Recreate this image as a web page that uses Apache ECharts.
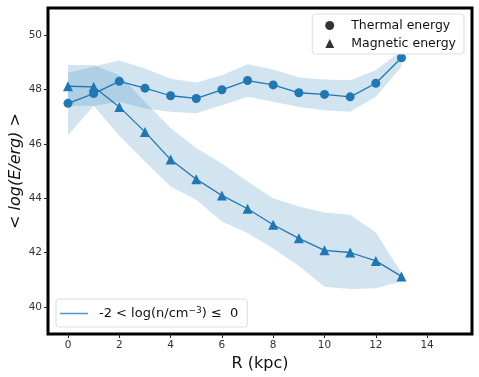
<!DOCTYPE html>
<html>
<head>
<meta charset="utf-8">
<script src="https://cdn.jsdelivr.net/npm/echarts@6/dist/echarts.min.js"></script>
<style>
  html, body { margin: 0; padding: 0; background: #fff; }
  #chart { width: 479px; height: 377px; }
</style>
</head>
<body>
<div id="chart"></div>
<script>
// Rayons (kpc)
const radius = [0, 1, 2, 3, 4, 5, 6, 7, 8, 9, 10, 11, 12, 13];

// Energie thermique : moyenne et enveloppe
const thermal = [47.49, 47.85, 48.30, 48.05, 47.77, 47.67, 47.99, 48.33, 48.17, 47.88, 47.82, 47.73, 48.23, 49.17];
const thermalUp = [48.62, 48.85, 49.07, 48.77, 48.40, 48.26, 48.52, 48.93, 48.74, 48.44, 48.37, 48.34, 48.71, 49.44];
const thermalLow = [47.40, 47.40, 47.55, 47.30, 47.18, 47.13, 47.42, 47.73, 47.55, 47.36, 47.24, 47.18, 47.73, 48.83];

// Energie magnetique : moyenne et enveloppe
const magnetic = [48.12, 48.10, 47.36, 46.44, 45.42, 44.70, 44.10, 43.61, 43.02, 42.52, 42.08, 42.00, 41.69, 41.12];
const magneticUp = [48.90, 48.90, 48.52, 47.55, 46.58, 45.85, 45.28, 44.61, 44.00, 43.69, 43.47, 43.39, 42.74, 41.25];
const magneticLow = [46.32, 47.40, 46.30, 45.35, 44.43, 43.94, 43.14, 42.72, 42.15, 41.50, 40.74, 40.66, 40.68, 40.94];

const xTicks = [0, 2, 4, 6, 8, 10, 12, 14];
const yTicks = [40, 42, 44, 46, 48, 50];

const BLUE = '#1f77b4';
const FONT = 'DejaVu Sans';
const densName = 'dens';

function pairs(vals) {
    return radius.map((r, i) => [r, vals[i]]);
}

// Bande remplie entre deux courbes (fill_between), via les echelles du graphe
function band(up, low) {
    return {
        type: 'custom',
        silent: true,
        z: 1,
        data: [[0, up[0]]],
        renderItem: function (params, api) {
            const pts = [];
            for (let i = 0; i < radius.length; i++) pts.push(api.coord([radius[i], up[i]]));
            for (let i = radius.length - 1; i >= 0; i--) pts.push(api.coord([radius[i], low[i]]));
            return {
                type: 'polygon',
                shape: { points: pts },
                style: { fill: BLUE, opacity: 0.2 }
            };
        }
    };
}

var chart = echarts.init(document.getElementById('chart'));

var option = {
    animation: false,
    textStyle: { fontFamily: FONT },
    grid: {
        left: 48, right: 7, top: 8, bottom: 43,
        outerBoundsMode: 'none',
        containLabel: false,
        show: true, borderColor: '#000', borderWidth: 3, backgroundColor: 'transparent'
    },
    xAxis: {
        type: 'value',
        min: -0.78, max: 15.75,
        name: 'R (kpc)',
        nameLocation: 'middle',
        nameGap: 22,
        nameTextStyle: { fontFamily: FONT, fontSize: 16, color: '#111' },
        axisLine: { show: false, onZero: false },
        axisTick: { show: true, length: 4, lineStyle: { color: '#222' }, customValues: xTicks },
        axisLabel: { fontFamily: FONT, fontSize: 10.5, color: '#333', margin: 6, customValues: xTicks },
        splitLine: { show: false }
    },
    yAxis: {
        type: 'value',
        min: 39, max: 51,
        name: '< {it|log(E/erg)} >',
        nameLocation: 'middle',
        nameGap: 24,
        nameMoveOverlap: false,
        nameTextStyle: {
            fontFamily: FONT, fontSize: 16, color: '#111',
            rich: { it: { fontFamily: FONT, fontSize: 16, fontStyle: 'italic', color: '#111' } }
        },
        axisLine: { show: false, onZero: false },
        axisTick: { show: true, length: 4, lineStyle: { color: '#222' }, customValues: yTicks },
        axisLabel: { fontFamily: FONT, fontSize: 10.5, color: '#333', margin: 6, customValues: yTicks },
        splitLine: { show: false }
    },
    legend: [
        {
            orient: 'vertical',
            right: 15, top: 14,
            data: [
                { name: 'Thermal energy', icon: 'circle' },
                { name: 'Magnetic energy', icon: 'triangle' }
            ],
            itemWidth: 9, itemHeight: 9,
            itemGap: 5,
            padding: [5, 8, 4, 13],
            borderColor: '#ddd', borderWidth: 1, borderRadius: 3,
            backgroundColor: '#fff',
            textStyle: { fontFamily: FONT, fontSize: 12.5, color: '#111', padding: [0, 0, 0, 12] }
        },
        {
            orient: 'horizontal',
            left: 56, top: 299,
            data: [{ name: densName, icon: 'rect' }],
            itemWidth: 28, itemHeight: 1.5,
            padding: [7, 9, 7, 4],
            borderColor: '#ddd', borderWidth: 1, borderRadius: 3,
            backgroundColor: '#fff',
            formatter: function () {
                return '-2 < log(n/cm{sup|−3}) ≤  0';
            },
            textStyle: {
                fontFamily: FONT, fontSize: 13, color: '#111', padding: [0, 0, 0, 6],
                rich: {
                    sup: { fontFamily: FONT, fontSize: 9, color: '#111', verticalAlign: 'top', padding: [0, 0, 6, 0] }
                }
            }
        }
    ],
    series: [
        band(thermalUp, thermalLow),
        band(magneticUp, magneticLow),
        {
            type: 'line', data: pairs(thermal), symbol: 'circle', symbolSize: 9,
            color: BLUE, lineStyle: { width: 1.3, color: BLUE }, itemStyle: { color: BLUE }, z: 3
        },
        {
            type: 'line', data: pairs(magnetic), symbol: 'triangle', symbolSize: 10,
            color: BLUE, lineStyle: { width: 1.3, color: BLUE }, itemStyle: { color: BLUE }, z: 3
        },
        // Series vides pour les legendes
        { type: 'scatter', name: 'Thermal energy', data: [], itemStyle: { color: '#000' } },
        { type: 'scatter', name: 'Magnetic energy', data: [], itemStyle: { color: '#000' } },
        { type: 'line', name: densName, data: [], itemStyle: { color: '#4e97cf' }, lineStyle: { color: '#4e97cf' } }
    ]
};

chart.setOption(option);
</script>
</body>
</html>
